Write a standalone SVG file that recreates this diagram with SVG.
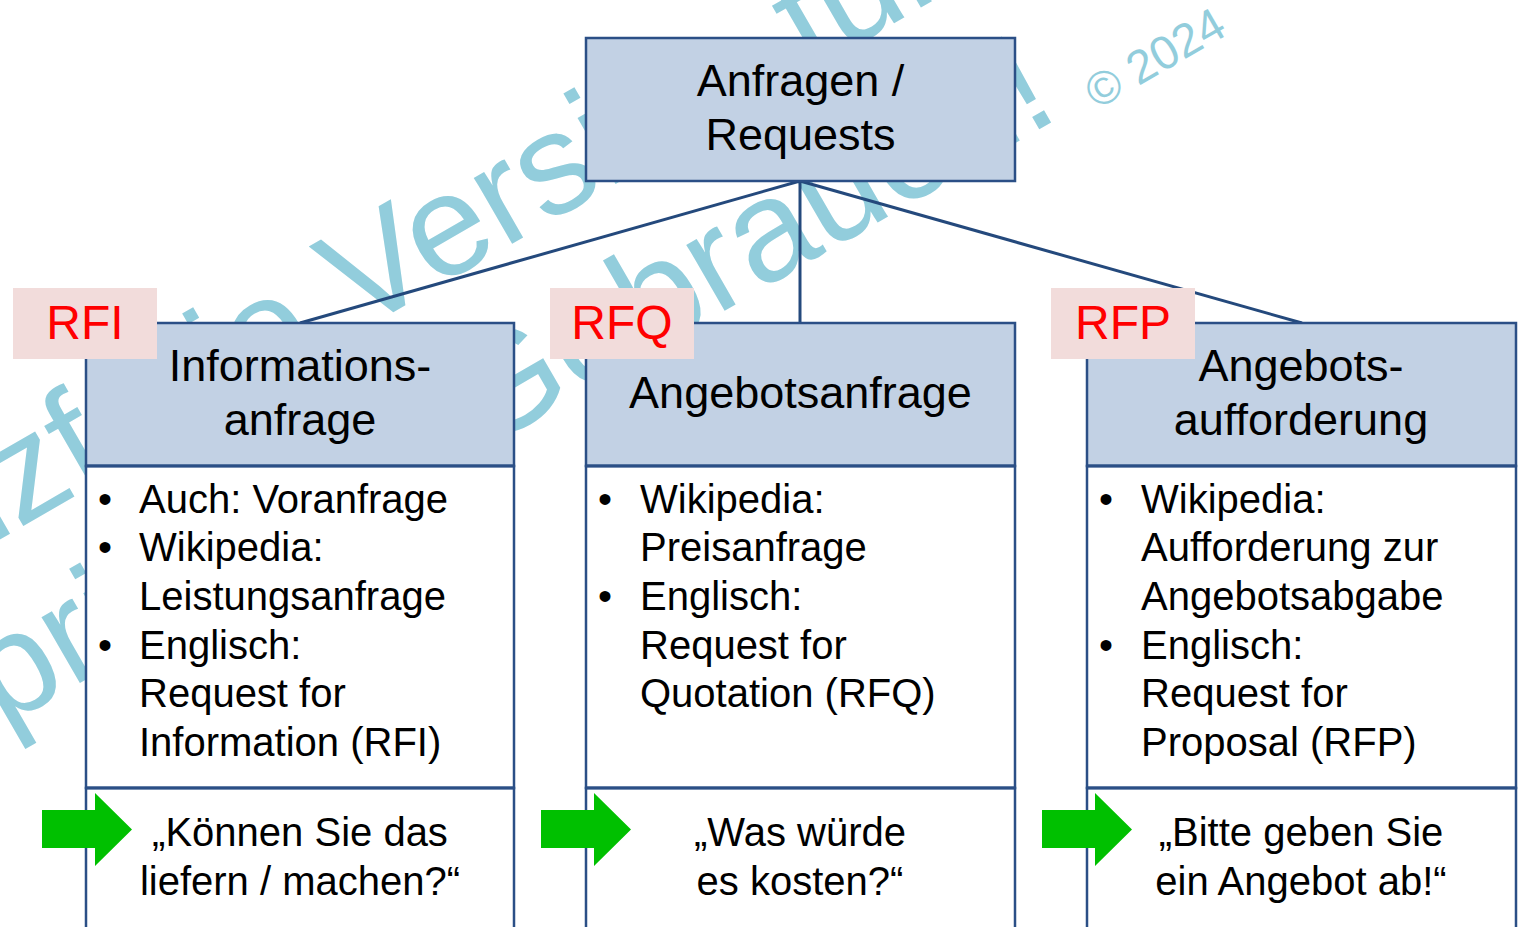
<svg xmlns="http://www.w3.org/2000/svg" width="1519" height="927" viewBox="0 0 1519 927">
  <style>
    text { font-family: "Liberation Sans", Arial, sans-serif; fill: #000; }
    .wm { fill: #92CDDC; font-size: 144px; }
    .wm-small { fill: #92CDDC; font-size: 47px; }
    .head { fill: #C2D1E4; stroke: #2B4F86; stroke-width: 2.5; }
    .cell { fill: #FFFFFF; stroke: #2B4F86; stroke-width: 2.5; }
    .divider { stroke: #2B4F86; stroke-width: 3; fill: none; }
    .h { font-size: 45px; text-anchor: middle; }
    .b { font-size: 40px; }
    .q { font-size: 40px; text-anchor: middle; }
    .tagbg { fill: #F2DCDB; }
    .tag { font-size: 48px; fill: #FF0000; text-anchor: middle; }
    .arrow { fill: #00C000; }
    .conn { stroke: #24497C; stroke-width: 3; fill: none; }
  </style>
  <defs>
    <polygon id="go" class="arrow" points="0,17 53,17 53,0 90,36.5 53,73 53,55 0,55"/>
  </defs>

  <rect width="1519" height="927" fill="#FFFFFF"/>

  <!-- watermark -->
  <g id="watermark">
    <text class="wm" transform="translate(-280 701) rotate(-30)">Lizenzfreie Version für</text>
    <text class="wm" transform="translate(2 728) rotate(-30)">privaten Gebrauch!</text>
    <text class="wm-small" transform="translate(1097 110) rotate(-30)">© 2024</text>
  </g>

  <!-- connectors -->
  <g id="connectors">
    <line class="conn" x1="800" y1="181" x2="300" y2="323"/>
    <line class="conn" x1="800" y1="181" x2="800" y2="323"/>
    <line class="conn" x1="800" y1="181" x2="1302" y2="323"/>
  </g>

  <!-- root -->
  <g id="node-requests">
    <rect class="head" x="586" y="38" width="429" height="143"/>
    <text class="h" x="800.5" y="96">Anfragen /</text>
    <text class="h" x="800.5" y="150">Requests</text>
  </g>

  <!-- RFI column -->
  <g id="node-rfi">
    <rect class="head" x="86" y="323" width="428" height="143"/>
    <rect class="cell" x="86" y="466" width="428" height="322"/>
    <rect class="cell" x="86" y="788" width="428" height="160"/>
    <line class="divider" x1="86" y1="466" x2="514" y2="466"/>
    <line class="divider" x1="86" y1="788" x2="514" y2="788"/>
    <text class="h" x="300" y="381">Informations-</text>
    <text class="h" x="300" y="435">anfrage</text>
    <text class="b" x="105" y="513" text-anchor="middle">•</text>
    <text class="b" x="139" y="513">Auch: Voranfrage</text>
    <text class="b" x="105" y="561" text-anchor="middle">•</text>
    <text class="b" x="139" y="561">Wikipedia:</text>
    <text class="b" x="139" y="610">Leistungsanfrage</text>
    <text class="b" x="105" y="659" text-anchor="middle">•</text>
    <text class="b" x="139" y="659">Englisch:</text>
    <text class="b" x="139" y="707">Request for</text>
    <text class="b" x="139" y="756">Information (RFI)</text>
    <text class="q" x="300" y="846">„Können Sie das</text>
    <text class="q" x="300" y="895">liefern / machen?“</text>
    <use href="#go" x="42" y="793"/>
    <rect class="tagbg" x="13" y="288" width="144" height="71"/>
    <text class="tag" x="85" y="339">RFI</text>
  </g>

  <!-- RFQ column -->
  <g id="node-rfq">
    <rect class="head" x="586" y="323" width="429" height="143"/>
    <rect class="cell" x="586" y="466" width="429" height="322"/>
    <rect class="cell" x="586" y="788" width="429" height="160"/>
    <line class="divider" x1="586" y1="466" x2="1015" y2="466"/>
    <line class="divider" x1="586" y1="788" x2="1015" y2="788"/>
    <text class="h" x="800.5" y="408">Angebotsanfrage</text>
    <text class="b" x="605" y="513" text-anchor="middle">•</text>
    <text class="b" x="640" y="513">Wikipedia:</text>
    <text class="b" x="640" y="561">Preisanfrage</text>
    <text class="b" x="605" y="610" text-anchor="middle">•</text>
    <text class="b" x="640" y="610">Englisch:</text>
    <text class="b" x="640" y="659">Request for</text>
    <text class="b" x="640" y="707">Quotation (RFQ)</text>
    <text class="q" x="800" y="846">„Was würde</text>
    <text class="q" x="800" y="895">es kosten?“</text>
    <use href="#go" x="541" y="793"/>
    <rect class="tagbg" x="550" y="288" width="144" height="71"/>
    <text class="tag" x="622" y="339">RFQ</text>
  </g>

  <!-- RFP column -->
  <g id="node-rfp">
    <rect class="head" x="1087" y="323" width="429" height="143"/>
    <rect class="cell" x="1087" y="466" width="429" height="322"/>
    <rect class="cell" x="1087" y="788" width="429" height="160"/>
    <line class="divider" x1="1087" y1="466" x2="1516" y2="466"/>
    <line class="divider" x1="1087" y1="788" x2="1516" y2="788"/>
    <text class="h" x="1301" y="381">Angebots-</text>
    <text class="h" x="1301" y="435">aufforderung</text>
    <text class="b" x="1106" y="513" text-anchor="middle">•</text>
    <text class="b" x="1141" y="513">Wikipedia:</text>
    <text class="b" x="1141" y="561">Aufforderung zur</text>
    <text class="b" x="1141" y="610">Angebotsabgabe</text>
    <text class="b" x="1106" y="659" text-anchor="middle">•</text>
    <text class="b" x="1141" y="659">Englisch:</text>
    <text class="b" x="1141" y="707">Request for</text>
    <text class="b" x="1141" y="756">Proposal (RFP)</text>
    <text class="q" x="1301" y="846">„Bitte geben Sie</text>
    <text class="q" x="1301" y="895">ein Angebot ab!“</text>
    <use href="#go" x="1042" y="793"/>
    <rect class="tagbg" x="1051" y="288" width="144" height="71"/>
    <text class="tag" x="1123" y="339">RFP</text>
  </g>
</svg>
